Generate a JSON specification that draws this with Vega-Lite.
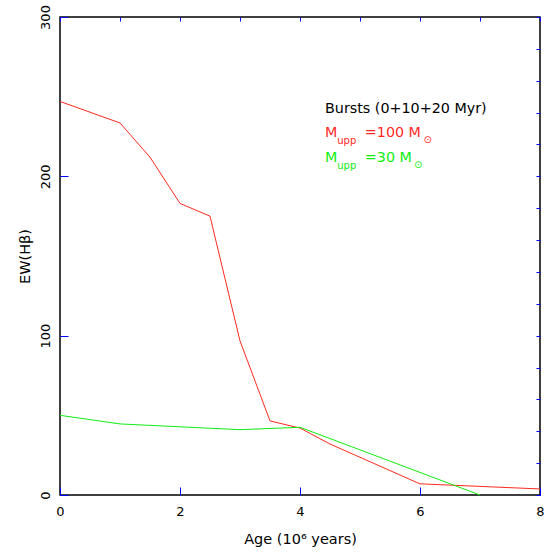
{
  "$schema": "https://vega.github.io/schema/vega-lite/v6.json",
  "width": 480,
  "height": 478,
  "autosize": {"type": "none"},
  "padding": {"left": 60, "top": 17, "right": 15, "bottom": 57},
  "background": "white",
  "config": {"view": {"stroke": "black", "strokeWidth": 1.5}},
  "datasets": {
    "lines": [
      {"age": 0, "ew": 247, "series": "100"},
      {"age": 1, "ew": 233.5, "series": "100"},
      {"age": 1.5, "ew": 212, "series": "100"},
      {"age": 2, "ew": 183, "series": "100"},
      {"age": 2.5, "ew": 175, "series": "100"},
      {"age": 3, "ew": 96.7, "series": "100"},
      {"age": 3.5, "ew": 46.5, "series": "100"},
      {"age": 4, "ew": 42, "series": "100"},
      {"age": 4.5, "ew": 32, "series": "100"},
      {"age": 6, "ew": 7, "series": "100"},
      {"age": 8, "ew": 3.8, "series": "100"},
      {"age": 0, "ew": 50, "series": "30"},
      {"age": 1, "ew": 44.6, "series": "30"},
      {"age": 2, "ew": 42.8, "series": "30"},
      {"age": 3, "ew": 41, "series": "30"},
      {"age": 4, "ew": 42.5, "series": "30"},
      {"age": 7, "ew": 0, "series": "30"}
    ],
    "labels": [
      {"x": 4.417, "y": 239.8, "t": "Bursts (0+10+20 Myr)", "series": "title"},
      {"x": 4.417, "y": 224.7, "t": "M", "series": "100"},
      {"x": 5.08, "y": 224.7, "t": "=100 M", "series": "100"},
      {"x": 4.417, "y": 209.0, "t": "M", "series": "30"},
      {"x": 5.08, "y": 209.0, "t": "=30 M", "series": "30"}
    ],
    "subs": [
      {"x": 4.62, "y": 220.0, "t": "upp", "series": "100"},
      {"x": 6.06, "y": 221.0, "t": "⊙", "series": "100"},
      {"x": 4.62, "y": 204.3, "t": "upp", "series": "30"},
      {"x": 5.9, "y": 205.5, "t": "⊙", "series": "30"}
    ]
  },
  "layer": [
    {
      "data": {"name": "lines"},
      "transform": [{"filter": "datum.series == '100'"}],
      "mark": {"type": "line", "strokeWidth": 1},
      "encoding": {
        "x": {"field": "age", "type": "quantitative", "scale": {"domain": [0, 8], "nice": false, "zero": false},
              "axis": {"orient": "bottom", "offset": -8, "tickCount": 4, "tickSize": 8, "tickColor": "blue", "domain": false, "grid": false,
                       "labelPadding": 10, "labelFont": "DejaVu Sans", "labelFontSize": 13, "labelColor": "black", "labelFlush": false,
                       "title": "Age (10⁶ years)", "titlePadding": 14, "titleFont": "DejaVu Sans", "titleFontSize": 14.5, "titleFontWeight": "normal", "titleColor": "black"}},
        "y": {"field": "ew", "type": "quantitative", "scale": {"domain": [0, 300], "nice": false},
              "axis": {"orient": "left", "offset": -8, "tickCount": 3, "tickSize": 8, "tickColor": "blue", "domain": false, "grid": false,
                       "labelPadding": 8, "labelAngle": -90, "labelFont": "DejaVu Sans", "labelFontSize": 13, "labelColor": "black", "labelFlush": false,
                       "title": "EW(Hβ)", "titlePadding": 7, "titleFont": "DejaVu Sans", "titleFontSize": 14.5, "titleFontWeight": "normal", "titleColor": "black"}},
        "color": {"field": "series", "type": "nominal", "legend": null,
                  "scale": {"domain": ["100", "30", "title"], "range": ["#ff2a1f", "#10ee10", "black"]}}
      }
    },
    {
      "data": {"name": "lines"},
      "transform": [{"filter": "datum.series == '30'"}],
      "mark": {"type": "line", "strokeWidth": 1},
      "encoding": {
        "x": {"field": "age", "type": "quantitative",
              "axis": {"orient": "top", "offset": -4, "tickCount": 8, "tickSize": 4, "tickColor": "blue", "domain": false, "grid": false, "labels": false, "title": null}},
        "y": {"field": "ew", "type": "quantitative",
              "axis": {"orient": "right", "offset": -4, "tickCount": 15, "tickSize": 4, "tickColor": "blue", "domain": false, "grid": false, "labels": false, "title": null}},
        "color": {"field": "series", "type": "nominal", "legend": null}
      }
    },
    {
      "data": {"name": "labels"},
      "mark": {"type": "text", "align": "left", "baseline": "alphabetic", "fontSize": 14.3, "font": "DejaVu Sans"},
      "encoding": {
        "x": {"field": "x", "type": "quantitative", "axis": null},
        "y": {"field": "y", "type": "quantitative", "axis": null},
        "text": {"field": "t"},
        "color": {"field": "series", "type": "nominal", "legend": null}
      }
    },
    {
      "data": {"name": "subs"},
      "mark": {"type": "text", "align": "left", "baseline": "alphabetic", "fontSize": 10, "font": "DejaVu Sans"},
      "encoding": {
        "x": {"field": "x", "type": "quantitative", "axis": null},
        "y": {"field": "y", "type": "quantitative", "axis": null},
        "text": {"field": "t"},
        "color": {"field": "series", "type": "nominal", "legend": null}
      }
    }
  ],
  "resolve": {"axis": {"x": "independent", "y": "independent"}}
}
